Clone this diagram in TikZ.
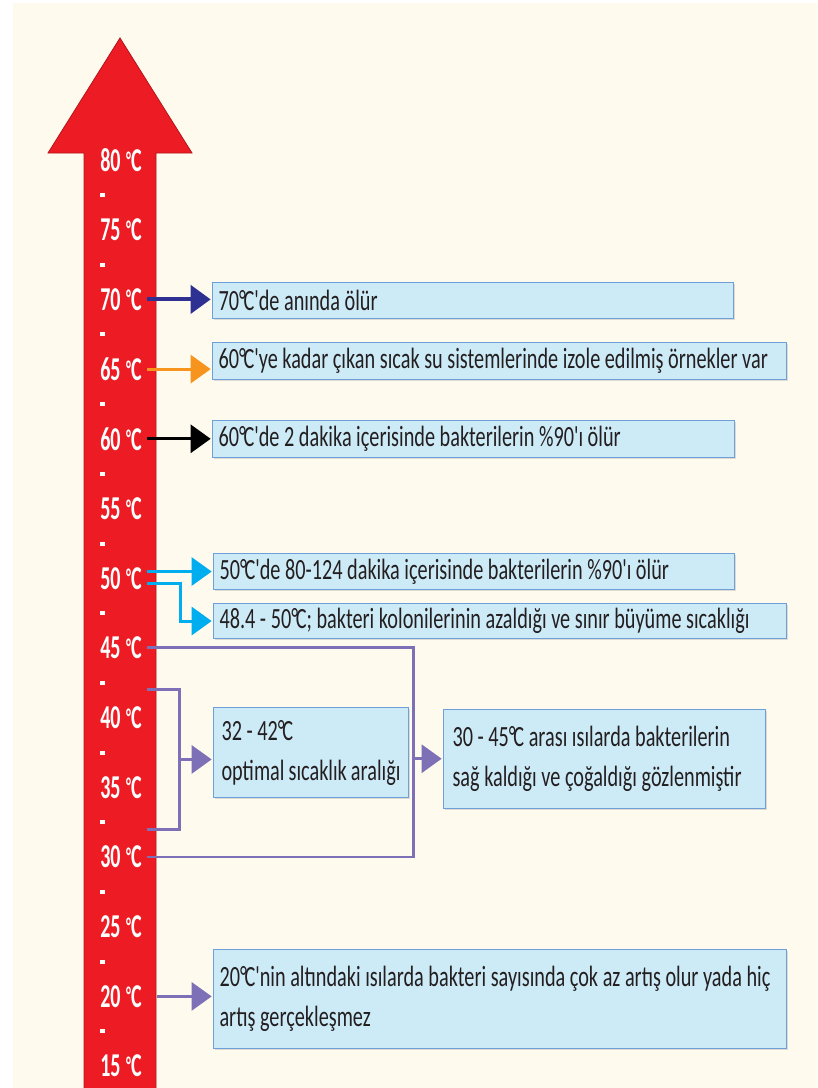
\documentclass[tikz,border=0pt]{standalone}
\usepackage{fontspec}
\usetikzlibrary{arrows.meta,calc,shadows}
\newfontfamily\boxfont[FakeStretch=0.69]{Carlito}
\newfontfamily\tickfont[FakeStretch=0.6]{Carlito Bold}
\definecolor{cream}{HTML}{FEFBEE}
\definecolor{arrowred}{HTML}{ED1C24}
\definecolor{arrowedge}{HTML}{B5121B}
\definecolor{boxfill}{HTML}{CDEAF7}
\definecolor{boxedge}{HTML}{6F9FD8}
\definecolor{inkgray}{HTML}{231F20}
\definecolor{navyarr}{HTML}{2E3192}
\definecolor{orangearr}{HTML}{F7941D}
\definecolor{cyanarr}{HTML}{00AEEF}
\definecolor{purplearr}{HTML}{7E70B6}
\tikzset{
  tick/.style={anchor=west, text=white, font=\tickfont\fontsize{25}{25}\selectfont,
    inner sep=0pt, align=left, text width=35pt},
  infobox/.style={anchor=north west, draw=boxedge, fill=boxfill, line width=0.8pt,
    drop shadow={shadow xshift=1pt, shadow yshift=-1pt, opacity=0.25},
    text=inkgray, font=\boxfont\fontsize{22}{30}\selectfont, align=flush left,
    inner xsep=4.5pt, inner ysep=0pt},
  pointer/.style={-{Triangle[length=15pt,width=21pt]}, line width=2.2pt, shorten >=1pt},
  bracket/.style={line width=2.2pt, purplearr},
}
\newcommand{\degC}{°\kern-0.08em C}
\begin{document}
\begin{tikzpicture}[x=0.75pt,y=-0.75pt]
  \useasboundingbox (0,0) rectangle (817,1088);
  \fill[white] (0,0) rectangle (817,1088);
  \fill[cream] (13,3) rectangle (817,1088);
  % thermometer arrow
  \filldraw[fill=arrowred, draw=arrowedge, line width=0.6pt]
    (84,1090) -- (84,153) -- (48,153) -- (120,38) -- (192,153)
    -- (156,153) -- (156,1090) -- cycle;
  % temperature marks
  \foreach \t [count=\i from 0] in {80,75,70,65,60,55,50,45,40,35,30,25,20,15} {
    \node[tick] (t\t) at (100,160+69.7*\i) {\t\,{\raisebox{0.2ex}{\fontsize{18}{18}\selectfont°}}C};
  }
  \foreach \i in {0,...,12} {
    \fill[white] (100,193+69.7*\i) rectangle (105,197+69.7*\i);
  }
  % boxes
  \node[infobox, text width=381.75pt, minimum height=27pt] (b70) at (212,282)
    {70\degC'de anında ölür};
  \node[infobox, text width=421.5pt, minimum height=27.75pt] (b65) at (212,342)
    {60\degC'ye kadar çıkan sıcak su sistemlerinde izole edilmiş örnekler var};
  \node[infobox, text width=382.5pt, minimum height=27.75pt] (b60) at (212,420)
    {60\degC'de 2 dakika içerisinde bakterilerin \%90'ı ölür};
  \node[infobox, text width=381.75pt, minimum height=27pt] (b50) at (213,553)
    {50\degC'de 80-124 dakika içerisinde bakterilerin \%90'ı ölür};
  \node[infobox, text width=420.75pt, minimum height=26.25pt] (b48) at (213,603)
    {48.4 - 50\degC; bakteri kolonilerinin azaldığı ve sınır büyüme sıcaklığı};
  \node[infobox, text width=134.25pt, minimum height=67.5pt, inner xsep=6pt] (b32) at (213,707)
    {32 - 42\degC\\optimal sıcaklık aralığı};
  \node[infobox, text width=228pt, minimum height=74.25pt, inner xsep=6.75pt] (b30) at (443,709)
    {30 - 45\degC\ arası ısılarda bakterilerin\\sağ kaldığı ve çoğaldığı gözlenmiştir};
  \node[infobox, text width=420.75pt, minimum height=74.25pt] (b20) at (213,949)
    {20\degC'nin altındaki ısılarda bakteri sayısında çok az artış olur yada hiç\\artış gerçekleşmez};
  % connectors
  \coordinate (c42) at ($(t40.east)!0.4!(t45.east)$);
  \coordinate (c32) at ($(t30.east)!0.4!(t35.east)$);
  \coordinate (j32) at ($(c42)!0.5!(c32)+(32,0)$);
  \coordinate (j30) at ($(t45.east)!0.53!(t30.east)+(266,0)$);
  \draw[pointer, navyarr, line width=3pt] (t70.east) -- (t70.east -| b70.west);
  \draw[pointer, orangearr] (t65.east) -- (t65.east -| b65.west);
  \draw[pointer, black] (t60.east) -- (t60.east -| b60.west);
  \begin{scope}[cyanarr]
    \draw[pointer] (t50.east |- b50.west) -- (b50.west);
    \draw[pointer] ([yshift=-4pt]t50.east) -- ++(33,0) |- (b48.west);
  \end{scope}
  \draw[bracket] (t45.east) -| (j30) |- (t30.east);
  \draw[pointer, purplearr] (j30) -- (j30 -| b30.west);
  \draw[bracket] (c42) -| (j32) |- (c32);
  \draw[pointer, purplearr] (j32) -- (j32 -| b32.west);
  \draw[pointer, purplearr, shorten <=7pt] (t20.east) -- (t20.east -| b20.west);
\end{tikzpicture}
\end{document}
